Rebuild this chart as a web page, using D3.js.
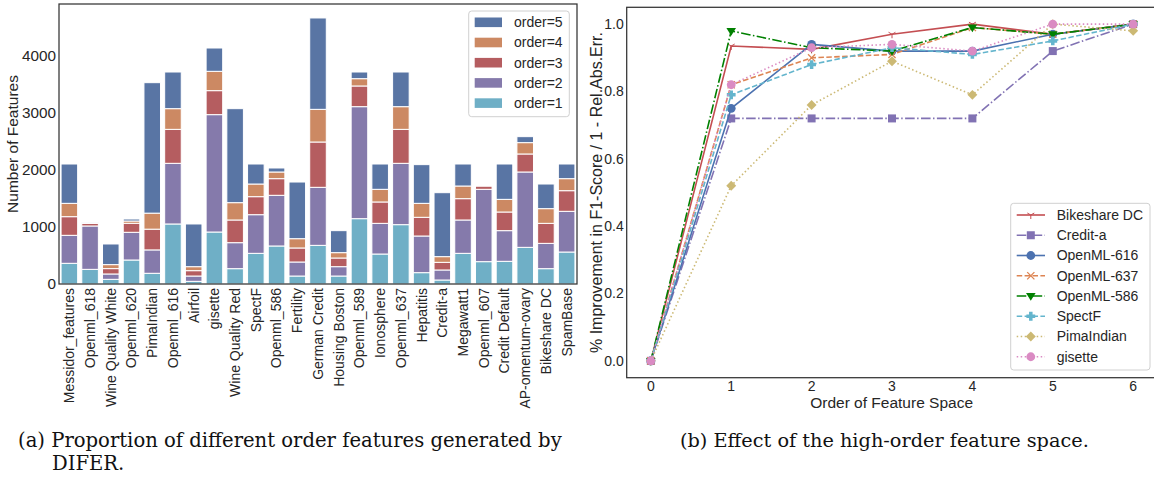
<!DOCTYPE html>
<html>
<head>
<meta charset="utf-8">
<script src="https://cdn.jsdelivr.net/npm/d3@7"></script>
<style>
  body { margin: 0; background: #fff; }
  svg text { font-family: "Liberation Sans", Arial, sans-serif; fill: #262626; }
  svg text.cap { font-family: "DejaVu Serif", "Liberation Serif", serif; fill: #111; }
</style>
</head>
<body>
<div id="chart"></div>
<script>
// ---- left panel: features per order ----
const datasets = ['Messidor_features', 'Openml_618', 'Wine Quality White', 'Openml_620', 'PimaIndian',
  'Openml_616', 'Airfoil', 'gisette', 'Wine Quality Red', 'SpectF', 'Openml_586', 'Fertility',
  'German Credit', 'Housing Boston', 'Openml_589', 'Ionosphere', 'Openml_637', 'Hepatitis',
  'Credit-a', 'Megawatt1', 'Openml_607', 'Credit Default', 'AP-omentum-ovary', 'Bikeshare DC', 'SpamBase'];

const order1 = [363, 257, 82, 421, 188, 1053, 47, 912, 269, 538, 667, 140, 678, 140, 1146, 526, 1041, 199, 70, 538, 392, 398, 643, 269, 561];
const order2 = [491, 761, 94, 486, 410, 1064, 93, 2059, 456, 678, 889, 246, 1018, 164, 1965, 538, 1076, 643, 176, 585, 1269, 538, 1322, 444, 714];
const order3 = [327, 45, 94, 158, 364, 596, 94, 421, 398, 316, 292, 246, 795, 152, 363, 375, 596, 328, 134, 374, 58, 327, 316, 351, 362];
const order4 = [234, 8, 70, 40, 281, 363, 70, 339, 304, 222, 117, 163, 573, 94, 128, 222, 398, 245, 100, 222, 6, 222, 199, 258, 211];
const order5 = [690, 6, 362, 35, 2289, 643, 749, 409, 1649, 351, 70, 994, 1603, 386, 117, 444, 608, 679, 1122, 386, 6, 620, 105, 432, 257];

const orderKeys = ['order=1', 'order=2', 'order=3', 'order=4', 'order=5'];
const orderColors = ['#6fafc6', '#857aab', '#b55d60', '#cc8963', '#5975a4'];
const barTicks = [0, 1000, 2000, 3000, 4000];

// ---- right panel: improvement per order of feature space ----
const orders = [0, 1, 2, 3, 4, 5, 6];
const seriesNames = ['Bikeshare DC', 'Credit-a', 'OpenML-616', 'OpenML-637', 'OpenML-586', 'SpectF', 'PimaIndian', 'gisette'];
const bikeshareDC = [0, 0.935, 0.925, 0.97, 1.0, 0.97, 1.0];
const creditA = [0, 0.72, 0.72, 0.72, 0.72, 0.92, 1.0];
const openml616 = [0, 0.75, 0.94, 0.92, 0.92, 0.97, 1.0];
const openml637 = [0, 0.82, 0.90, 0.91, 0.99, 0.97, 1.0];
const openml586 = [0, 0.98, 0.93, 0.92, 0.99, 0.97, 1.0];
const spectF = [0, 0.79, 0.88, 0.93, 0.91, 0.95, 1.0];
const pimaIndian = [0, 0.52, 0.76, 0.89, 0.79, 1.0, 0.98];
const gisette = [0, 0.82, 0.93, 0.94, 0.92, 1.0, 1.0];
const lineTicksY = [0, 0.2, 0.4, 0.6, 0.8, 1.0];

const seriesValues = [bikeshareDC, creditA, openml616, openml637, openml586, spectF, pimaIndian, gisette];
const seriesColors = ['#c44e52', '#8172b3', '#4c72b0', '#dd8452', '#008000', '#64b5cd', '#ccb974', '#da8bc3'];
const seriesDash = [null, '9.6,2.4,1.5,2.4', null, '5.5,2.4', '9.6,2.4,1.5,2.4', '5.5,2.4', '1.5,2.5', '1.5,2.5'];
const seriesMarker = ['tri', 'square', 'circle', 'x', 'tridown', 'plus', 'diamond', 'circle'];

const chartWidth = 1154;
const chartHeight = 485;

const svg = d3.select('#chart')
  .append('svg')
  .attr('width', chartWidth)
  .attr('height', chartHeight);

//Left scales
const bl = 59, br = 577, bt = 4, bb = 284;
const xBar = d3.scaleBand()
  .domain(datasets)
  .range([bl, br])
  .paddingInner(0.2)
  .paddingOuter(0.1);
const yBar = d3.scaleLinear()
  .domain([0, 4912])
  .range([bb, bt]);

const rows = datasets.map((name, i) => ({
  name,
  'order=1': order1[i], 'order=2': order2[i], 'order=3': order3[i], 'order=4': order4[i], 'order=5': order5[i]
}));
const stacked = d3.stack().keys(orderKeys)(rows);

const left = svg.append('g');

left.selectAll('g.layer')
  .data(stacked)
  .enter()
  .append('g')
  .attr('class', 'layer')
  .attr('fill', (d, i) => orderColors[i])
  .selectAll('rect')
  .data(d => d)
  .enter()
  .append('rect')
  .attr('x', d => xBar(d.data.name))
  .attr('width', xBar.bandwidth())
  .attr('y', d => yBar(d[1]))
  .attr('height', d => yBar(d[0]) - yBar(d[1]))
  .attr('stroke', '#fff')
  .attr('stroke-width', 1);

//Left frame
left.append('rect')
  .attr('x', bl).attr('y', bt)
  .attr('width', br - bl).attr('height', bb - bt)
  .attr('fill', 'none')
  .attr('stroke', '#333')
  .attr('stroke-width', 1.25);

//Left ticks
left.selectAll('text.ytick')
  .data(barTicks)
  .enter()
  .append('text')
  .attr('class', 'ytick')
  .attr('x', bl - 3)
  .attr('y', d => yBar(d))
  .attr('dy', '0.35em')
  .attr('text-anchor', 'end')
  .style('font-size', '15.3px')
  .text(d => d);

left.selectAll('text.xtick')
  .data(datasets)
  .enter()
  .append('text')
  .attr('class', 'xtick')
  .attr('transform', d => `translate(${xBar(d) + xBar.bandwidth() / 2}, ${bb + 4}) rotate(-90)`)
  .attr('dy', '0.35em')
  .attr('text-anchor', 'end')
  .style('font-size', '14px')
  .text(d => d);

left.append('text')
  .attr('transform', `translate(13, ${(bt + bb) / 2}) rotate(-90)`)
  .attr('dy', '0.35em')
  .attr('text-anchor', 'middle')
  .style('font-size', '15.5px')
  .text('Number of Features');

//Left legend
const lleg = left.append('g');
lleg.append('rect')
  .attr('x', 468.7).attr('y', 11)
  .attr('width', 100.6).attr('height', 105.7)
  .attr('rx', 3)
  .attr('fill', '#fff').attr('fill-opacity', 0.8)
  .attr('stroke', '#d0d0d0');
const legOrder = [4, 3, 2, 1, 0];
legOrder.forEach((k, i) => {
  const cy = 22.3 + i * 20.2;
  lleg.append('rect')
    .attr('x', 474.7).attr('y', cy - 4.8)
    .attr('width', 27.3).attr('height', 9.6)
    .attr('fill', orderColors[k]);
  lleg.append('text')
    .attr('x', 514).attr('y', cy)
    .attr('dy', '0.35em')
    .style('font-size', '14px')
    .text(orderKeys[k]);
});

//Right scales
const ll = 626.7, lr = 1157.3, lt = 7.3, lb = 377.7;
const xLine = d3.scaleLinear()
  .domain([-0.3, 6.3])
  .range([ll, lr]);
const yLine = d3.scaleLinear()
  .domain([-0.05, 1.05])
  .range([lb, lt]);

const right = svg.append('g');

const line = d3.line()
  .x((d, i) => xLine(orders[i]))
  .y(d => yLine(d));

function drawMarker(g, type, x, y, color, s) {
  if (type === 'circle') {
    g.append('circle').attr('cx', x).attr('cy', y).attr('r', s * 0.55).attr('fill', color);
  } else if (type === 'square') {
    g.append('rect').attr('x', x - s * 0.5).attr('y', y - s * 0.5).attr('width', s).attr('height', s).attr('fill', color);
  } else if (type === 'diamond') {
    const r = s * 0.62;
    g.append('path').attr('d', `M${x},${y - r}L${x + r},${y}L${x},${y + r}L${x - r},${y}Z`).attr('fill', color);
  } else if (type === 'tridown') {
    const r = s * 0.6;
    g.append('path').attr('d', `M${x - r},${y - r * 0.6}L${x + r},${y - r * 0.6}L${x},${y + r}Z`).attr('fill', color);
  } else if (type === 'x') {
    const r = s * 0.45;
    g.append('path').attr('d', `M${x - r},${y - r}L${x + r},${y + r}M${x - r},${y + r}L${x + r},${y - r}`)
      .attr('stroke', color).attr('stroke-width', 1.3).attr('fill', 'none');
  } else if (type === 'plus') {
    const r = s * 0.55, w = s * 0.22;
    g.append('path').attr('d', `M${x - w},${y - r}H${x + w}V${y - w}H${x + r}V${y + w}H${x + w}V${y + r}H${x - w}V${y + w}H${x - r}V${y - w}H${x - w}Z`)
      .attr('fill', color);
  } else if (type === 'tri') {
    const r = s * 0.5;
    g.append('path').attr('d', `M${x},${y}V${y + r}M${x},${y}L${x - r * 0.87},${y - r * 0.5}M${x},${y}L${x + r * 0.87},${y - r * 0.5}`)
      .attr('stroke', color).attr('stroke-width', 1).attr('fill', 'none');
  }
}

//Lines and markers
seriesValues.forEach((vals, k) => {
  const g = right.append('g');
  g.append('path')
    .datum(vals)
    .attr('d', line)
    .attr('fill', 'none')
    .attr('stroke', seriesColors[k])
    .attr('stroke-width', 1.6)
    .attr('stroke-dasharray', seriesDash[k]);
  vals.forEach((v, i) => drawMarker(g, seriesMarker[k], xLine(orders[i]), yLine(v), seriesColors[k], 8));
});

//Right frame (right edge falls outside the picture)
right.append('rect')
  .attr('x', ll).attr('y', lt)
  .attr('width', lr - ll).attr('height', lb - lt)
  .attr('fill', 'none')
  .attr('stroke', '#333')
  .attr('stroke-width', 1.25);

right.selectAll('text.ytick')
  .data(lineTicksY)
  .enter()
  .append('text')
  .attr('x', ll - 3)
  .attr('y', d => yLine(d))
  .attr('dy', '0.35em')
  .attr('text-anchor', 'end')
  .style('font-size', '14px')
  .text(d => d.toFixed(1));

right.selectAll('text.xtick')
  .data(orders)
  .enter()
  .append('text')
  .attr('x', d => xLine(d))
  .attr('y', lb + 13.5)
  .attr('text-anchor', 'middle')
  .style('font-size', '14px')
  .text(d => d);

right.append('text')
  .attr('x', 891.6).attr('y', 407.5)
  .attr('text-anchor', 'middle')
  .style('font-size', '15.5px')
  .text('Order of Feature Space');

right.append('text')
  .attr('transform', `translate(596, ${(lt + lb) / 2}) rotate(-90)`)
  .attr('dy', '0.35em')
  .attr('text-anchor', 'middle')
  .style('font-size', '16px')
  .text('% Improvement in F1-Score / 1 - Rel.Abs.Err.');

//Right legend
const rleg = right.append('g');
rleg.append('rect')
  .attr('x', 1010.7).attr('y', 203.3)
  .attr('width', 139.3).attr('height', 166.7)
  .attr('rx', 3)
  .attr('fill', '#fff').attr('fill-opacity', 0.8)
  .attr('stroke', '#d0d0d0');
seriesNames.forEach((name, k) => {
  const cy = 215 + k * 20.25;
  rleg.append('line')
    .attr('x1', 1016.7).attr('x2', 1045)
    .attr('y1', cy).attr('y2', cy)
    .attr('stroke', seriesColors[k])
    .attr('stroke-width', 1.6)
    .attr('stroke-dasharray', seriesDash[k]);
  drawMarker(rleg, seriesMarker[k], 1030.8, cy, seriesColors[k], 8);
  rleg.append('text')
    .attr('x', 1056.7).attr('y', cy)
    .attr('dy', '0.35em')
    .style('font-size', '14px')
    .text(name);
});

//Captions
svg.append('text').attr('class', 'cap')
  .attr('x', 18).attr('y', 447)
  .style('font-size', '19.6px')
  .text('(a) Proportion of different order features generated by');
svg.append('text').attr('class', 'cap')
  .attr('x', 52).attr('y', 470)
  .style('font-size', '19.6px')
  .text('DIFER.');
svg.append('text').attr('class', 'cap')
  .attr('x', 680).attr('y', 447)
  .style('font-size', '19.3px')
  .text('(b) Effect of the high-order feature space.');
</script>
</body>
</html>
